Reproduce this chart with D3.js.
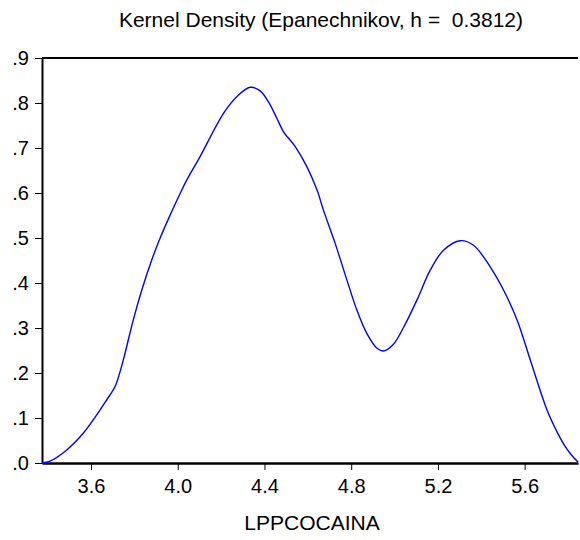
<!DOCTYPE html>
<html><head><meta charset="utf-8">
<script src="https://cdn.jsdelivr.net/npm/d3@7"></script>
<style>body{margin:0;background:#fff}svg{display:block}text{font-family:"Liberation Sans",Arial,sans-serif;fill:#000;white-space:pre}</style>
</head><body><svg id="c" width="580" height="540"></svg>
<script>
const title = "Kernel Density (Epanechnikov, h =  0.3812)";
const xLabel = "LPPCOCAINA";
const xTicks = [3.6, 4.0, 4.4, 4.8, 5.2, 5.6];
const yTicks = [0, 0.1, 0.2, 0.3, 0.4, 0.5, 0.6, 0.7, 0.8, 0.9];
const xs = [3.374,3.411,3.488,3.564,3.642,3.672,3.711,3.734,3.757,3.795,3.834,3.880,3.918,3.965,4.011,4.042,4.103,4.211,4.272,4.334,4.380,4.418,4.457,4.488,4.542,4.596,4.642,4.672,4.726,4.780,4.826,4.872,4.919,4.949,4.995,5.040,5.103,5.165,5.226,5.303,5.364,5.441,5.503,5.565,5.626,5.703,5.757,5.785,5.812,5.846];
const ys = [0.000,0.004,0.029,0.066,0.118,0.140,0.170,0.203,0.244,0.318,0.384,0.451,0.499,0.551,0.599,0.629,0.681,0.777,0.814,0.835,0.827,0.803,0.766,0.736,0.703,0.658,0.607,0.562,0.488,0.407,0.340,0.288,0.255,0.249,0.264,0.300,0.362,0.429,0.473,0.494,0.484,0.436,0.384,0.318,0.229,0.118,0.062,0.038,0.020,0.002];

const L = 42, R = 578, T = 58, B = 463;
const svg = d3.select("#c");
const x = d3.scaleLinear().domain([3.374, 5.846]).range([L, R]);
const y = d3.scaleLinear().domain([0, 0.9]).range([B, T]);

svg.append("text").attr("x", 321).attr("y", 27).attr("text-anchor", "middle")
  .attr("xml:space", "preserve").style("font-size", "21px").text(title);

// top border
svg.append("line").attr("x1", L).attr("x2", R).attr("y1", T).attr("y2", T)
  .attr("stroke", "#000").attr("stroke-width", 2);

const ax = svg.append("g").attr("transform", `translate(0,${B})`)
  .call(d3.axisBottom(x).tickValues(xTicks).tickFormat(d3.format(".1f")).tickSize(7).tickPadding(9).tickSizeOuter(0));
ax.select(".domain").attr("stroke-width", 2.5);
ax.selectAll(".tick line").attr("stroke-width", 1);
ax.selectAll("text").style("font-size", "20px").attr("font-family", null);

const ay = svg.append("g").attr("transform", `translate(${L},0)`)
  .call(d3.axisLeft(y).tickValues(yTicks).tickFormat(d => d3.format(".1f")(d).replace(/^0/, "")).tickSize(7).tickPadding(6).tickSizeOuter(0));
ay.select(".domain").attr("stroke-width", 2);
ay.selectAll(".tick line").attr("stroke-width", 1);
ay.selectAll("text").style("font-size", "20px").attr("font-family", null);

const line = d3.line().x((d, i) => x(xs[i])).y(d => y(d)).curve(d3.curveCatmullRom.alpha(0.5));
svg.append("path").datum(ys).attr("d", line).attr("fill", "none")
  .attr("stroke", "#0000ff").attr("stroke-width", 1.4);

svg.append("text").attr("x", 312).attr("y", 530).attr("text-anchor", "middle")
  .style("font-size", "21px").text(xLabel);
</script></body></html>
